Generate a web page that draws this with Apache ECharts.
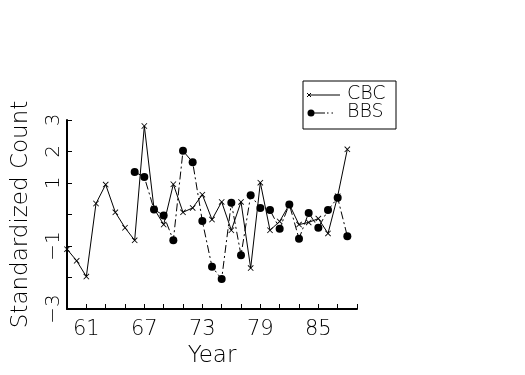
<!DOCTYPE html>
<html>
<head>
<meta charset="utf-8">
<script src="https://cdn.jsdelivr.net/npm/echarts@6/dist/echarts.min.js"></script>
<style>
html,body{margin:0;padding:0;background:#fff;}
#c{width:525px;height:375px;}
</style>
</head>
<body>
<div id="c"></div>
<script>
var cbcYears = [59,60,61,62,63,64,65,66,67,68,69,70,71,72,73,74,75,76,77,78,79,80,81,82,83,84,85,86,87,88];
var cbcValues = [-1.10,-1.47,-1.97,0.35,0.95,0.07,-0.42,-0.82,2.81,0.19,-0.32,0.96,0.07,0.21,0.63,-0.16,0.40,-0.50,0.40,-1.70,1.01,-0.50,-0.22,0.32,-0.32,-0.25,-0.13,-0.60,0.58,2.07];
var bbsYears = [66,67,68,69,70,71,72,73,74,75,76,77,78,79,80,81,82,83,84,85,86,87,88];
var bbsValues = [1.35,1.19,0.16,-0.03,-0.82,2.02,1.66,-0.21,-1.66,-2.05,0.37,-1.29,0.61,0.21,0.14,-0.45,0.32,-0.77,0.05,-0.42,0.14,0.53,-0.69];
var xLabels = [61,67,73,79,85];
var yLabels = [3,2,1,-1,-3];

var FONT = 'DejaVu Sans';
var xSym = 'path://M0,1L1,0L10,9L9,10Z M9,0L10,1L1,10L0,9Z';

function zip(a,b){ return a.map(function(v,i){ return [v,b[i]]; }); }

var chart = echarts.init(document.getElementById('c'), null, {renderer:'canvas'});
chart.setOption({
  animation:false,
  backgroundColor:'#fff',
  grid:{left:67, right:168, top:120, bottom:66},
  xAxis:{
    type:'value', min:59, max:89, interval:2,
    name:'Year', nameLocation:'middle', nameGap:35,
    nameTextStyle:{color:'#000', fontFamily:FONT, fontSize:23, fontWeight:200},
    axisLine:{show:true, onZero:false, lineStyle:{color:'#000', width:2}},
    axisTick:{show:true, inside:true, length:5, lineStyle:{color:'#000', width:1}},
    axisLabel:{color:'#000', fontFamily:FONT, fontSize:21, fontWeight:200, margin:10,
      formatter:function(v){ return xLabels.indexOf(v)>=0 ? String(v) : ''; }},
    splitLine:{show:false}
  },
  yAxis:{
    type:'value', min:-3, max:3, interval:1,
    name:'Standardized Count', nameLocation:'middle', nameGap:34,
    nameTextStyle:{color:'#000', fontFamily:FONT, fontSize:23, fontWeight:200},
    axisLine:{show:true, onZero:false, lineStyle:{color:'#000', width:2}},
    axisTick:{show:true, inside:true, length:5, lineStyle:{color:'#000', width:1}},
    axisLabel:{color:'#000', fontFamily:FONT, fontSize:20, fontWeight:200, rotate:90, margin:3,
      formatter:function(v){ return yLabels.indexOf(v)>=0 ? String(v).replace('-','\u2212') : ''; }},
    splitLine:{show:false}
  },
  series:[
    {name:'CBC', type:'line', data:zip(cbcYears,cbcValues),
     symbol:xSym, symbolSize:6, showAllSymbol:true,
     itemStyle:{color:'#000'},
     lineStyle:{color:'#000', width:1}},
    {name:'BBS', type:'line', data:zip(bbsYears,bbsValues),
     symbol:'circle', symbolSize:8, showAllSymbol:true,
     itemStyle:{color:'#000'},
     lineStyle:{color:'#000', width:1, type:[8,3,2,3]}}
  ],
  graphic:[
    {type:'rect', shape:{x:303, y:81, width:93, height:48}, style:{fill:'#fff', stroke:'#000', lineWidth:1}},
    {type:'line', shape:{x1:309, y1:95, x2:340, y2:95}, style:{stroke:'#000', lineWidth:1}},
    {type:'line', shape:{x1:307, y1:93, x2:311, y2:97}, style:{stroke:'#000', lineWidth:1}},
    {type:'line', shape:{x1:311, y1:93, x2:307, y2:97}, style:{stroke:'#000', lineWidth:1}},
    {type:'text', left:347, top:85, style:{text:'CBC', font:'200 19px "DejaVu Sans"', fill:'#000'}},
    {type:'line', shape:{x1:311, y1:113, x2:325, y2:113}, style:{stroke:'#000', lineWidth:1}},
    {type:'line', shape:{x1:327, y1:113, x2:334, y2:113}, style:{stroke:'#000', lineWidth:1, lineDash:[1.5,3]}},
    {type:'circle', shape:{cx:311, cy:113, r:3.5}, style:{fill:'#000'}},
    {type:'text', left:347, top:103, style:{text:'BBS', font:'200 19px "DejaVu Sans"', fill:'#000'}}
  ]
});
</script>
</body>
</html>
